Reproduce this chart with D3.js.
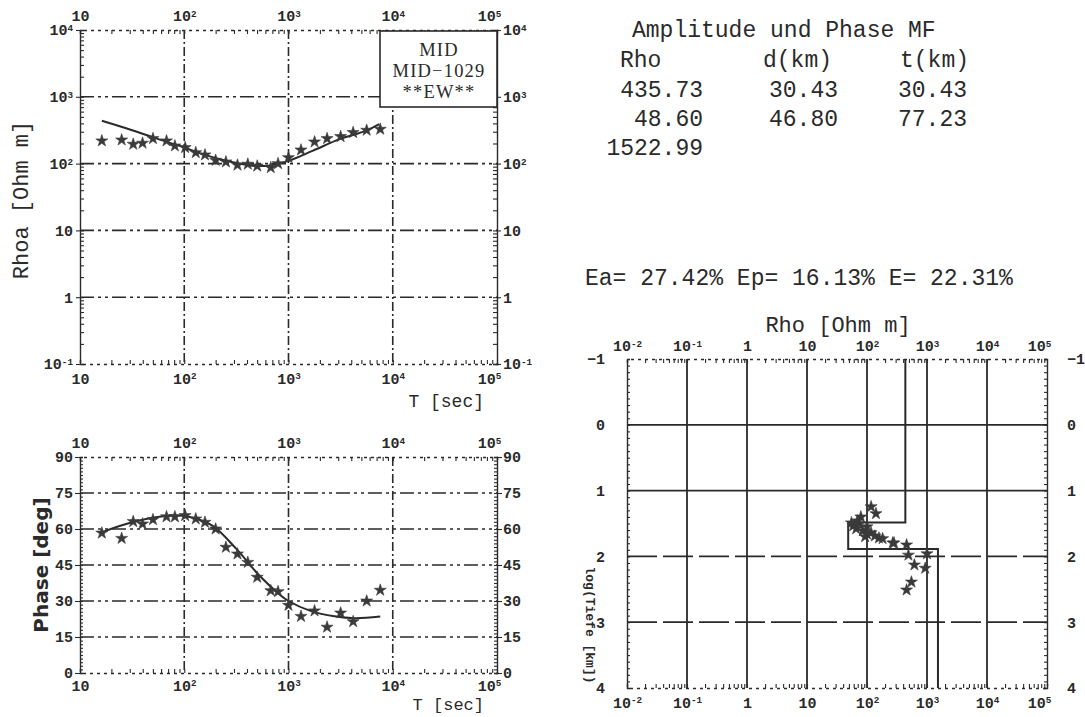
<!DOCTYPE html>
<html>
<head>
<meta charset="utf-8">
<script src="https://cdnjs.cloudflare.com/ajax/libs/d3/7.8.5/d3.min.js"></script>
<style>
  body { margin: 0; background: #fff; }
  svg { display: block; }
</style>
</head>
<body>
<svg id="chart" width="1085" height="717"></svg>
<script>
// ---- data ----
var periods = [16.2, 25.1, 32.4, 39.8, 50.1, 67.6, 81.3, 102, 129, 158, 200, 251, 324, 407, 501,
               676, 794, 1000, 1318, 1778, 2344, 3162, 4169, 5623, 7586];
var rhoa = [219, 226, 195, 202, 237, 219, 184, 174, 146, 135, 112, 106, 95, 98, 92,
            87, 100, 123, 160, 211, 237, 254, 292, 316, 327];
var phase = [58.3, 56.1, 63.1, 62.1, 63.9, 65.1, 65.1, 65.6, 64.2, 62.8, 60.0, 52.4, 49.6, 46.1, 39.9,
             34.3, 33.9, 28.2, 23.6, 25.9, 19.1, 25.0, 21.4, 30.0, 34.5];

var modelRhoPeriods = [16.2, 31.6, 51.3, 100, 158, 251, 417, 603, 1000, 1698, 3090, 5495, 7413];
var modelRhoa = [437, 316, 245, 174, 135, 110, 94.4, 92.3, 110, 155, 232, 309, 389];
var modelPhasePeriods = [16.2, 31.6, 75.9, 110, 186, 316, 525, 813, 1000, 1622, 2754, 4365, 7586];
var modelPhase = [58.6, 62.8, 65.6, 65.1, 61.4, 51.7, 40.6, 32.9, 30, 25.9, 23.6, 22.8, 23.5];

// layered model (Amplitude und Phase MF)
var layerRho = [435.73, 48.60, 1522.99];
var layerThick = [30.43, 46.80];
var layerDepth = [30.43, 77.23];

// Bostick transformed points: rho (Ohm m) and log10 depth (km)
var bostickRho = [117, 141, 79, 59, 66, 74, 85, 100, 117, 135, 158, 69, 100, 55, 93, 182,
                  269, 457, 490, 1000, 617, 933, 550, 457, 282];
var bostickLogDepth = [1.245, 1.35, 1.40, 1.535, 1.58, 1.505, 1.61, 1.66, 1.64, 1.69, 1.72, 1.46, 1.55, 1.49, 1.70, 1.73,
                       1.795, 1.825, 1.98, 1.96, 2.13, 2.18, 2.39, 2.51, 1.795];

var errNames = ['Ea', 'Ep', 'E'];
var errValues = [27.42, 16.13, 22.31];
var stationLines = ['MID', 'MID\u22121029', '**EW**'];

var periodTicks = [10, 100, 1000, 1e4, 1e5];
var rhoTicks = [0.1, 1, 10, 100, 1000, 1e4];
var phaseTicks = [0, 15, 30, 45, 60, 75, 90];
var depthRhoTicks = [1e-2, 1e-1, 1, 10, 100, 1000, 1e4, 1e5];
var logDepthTicks = [-1, 0, 1, 2, 3, 4];

// ---- drawing ----
var ink = '#2a2a2a';
var mono = '"Liberation Mono", "DejaVu Sans Mono", monospace';
var serif = '"Liberation Serif", "DejaVu Serif", serif';
var svg = d3.select('#chart');

// turn 10^n tick texts into 10 + superscript
function powLabels(sel) {
  sel.each(function(d) {
    var t = d3.select(this);
    var e = Math.round(Math.log10(d));
    t.text(null);
    if (e === 0) { t.text('1'); return; }
    if (e === 1) { t.text('10'); return; }
    t.append('tspan').text('10');
    t.append('tspan').attr('dy', '-0.45em').attr('font-size', '0.62em').text(e);
  });
}

function styleAxis(g) {
  g.selectAll('path.domain').attr('stroke', ink).attr('stroke-width', 1.4);
  g.selectAll('.tick line').attr('stroke', ink).attr('stroke-width', 1.1);
  g.selectAll('.tick text').attr('fill', ink).attr('font-family', mono)
    .attr('font-weight', 'bold').attr('font-size', 15);
}

function star(sel, size) {
  sel.attr('d', d3.symbol().type(d3.symbolStar).size(size))
    .attr('fill', '#3a3a3a').attr('stroke', '#3a3a3a').attr('stroke-width', 0.6);
}

function logFrame(g, x, xt, top, bottom, padTop, padBottom) {
  // minor ticks along top and bottom
  g.append('g').attr('transform', 'translate(0,' + top + ')')
    .call(d3.axisBottom(x).tickValues(x.ticks()).tickSize(4).tickFormat(''))
    .call(styleAxis).select('.domain').attr('stroke-dasharray', '3,4');
  g.append('g').attr('transform', 'translate(0,' + bottom + ')')
    .call(d3.axisTop(x).tickValues(x.ticks()).tickSize(4).tickFormat(''))
    .call(styleAxis).select('.domain').attr('stroke-dasharray', '3,4');
  // labels
  var a1 = g.append('g').attr('transform', 'translate(0,' + top + ')')
    .call(d3.axisTop(x).tickValues(xt).tickSize(0).tickPadding(padTop))
    .call(styleAxis).call(a => a.select('.domain').remove());
  a1.selectAll('.tick text').call(powLabels);
  var a2 = g.append('g').attr('transform', 'translate(0,' + bottom + ')')
    .call(d3.axisBottom(x).tickValues(xt).tickSize(0).tickPadding(padBottom))
    .call(styleAxis).call(a => a.select('.domain').remove());
  a2.selectAll('.tick text').call(powLabels);
  // keep the corner labels clear of the right-hand scale
  a1.selectAll('.tick text').filter((d, i) => i === xt.length - 1).attr('dx', -8);
  a2.selectAll('.tick text').filter((d, i) => i === xt.length - 1).attr('dx', -8);
}

// --- panel 1: apparent resistivity ---
var x1 = d3.scaleLog().domain([10, 1e5]).range([80, 497]);
var y1 = d3.scaleLog().domain([0.1, 1e4]).range([364, 30]);

var g1 = svg.append('g');
g1.selectAll('.hgrid').data(rhoTicks.slice(1, -1)).enter().append('line')
  .attr('x1', 80).attr('x2', 497).attr('y1', d => y1(d)).attr('y2', d => y1(d))
  .attr('stroke', ink).attr('stroke-width', 1.6).attr('stroke-dasharray', '14,4,3,4,3,4');
g1.selectAll('.vgrid').data(periodTicks.slice(1, -1)).enter().append('line')
  .attr('y1', 30).attr('y2', 364).attr('x1', d => x1(d)).attr('x2', d => x1(d))
  .attr('stroke', ink).attr('stroke-width', 1.6).attr('stroke-dasharray', '9,3,2,3');

logFrame(g1, x1, periodTicks, 30, 364, 9, 9);
g1.append('g').attr('transform', 'translate(80,0)')
  .call(d3.axisLeft(y1).tickValues(y1.ticks()).tickSize(-4).tickFormat(''))
  .call(styleAxis);
g1.append('g').attr('transform', 'translate(497,0)')
  .call(d3.axisRight(y1).tickValues(y1.ticks()).tickSize(-4).tickFormat(''))
  .call(styleAxis);
g1.append('g').attr('transform', 'translate(80,0)')
  .call(d3.axisLeft(y1).tickValues(rhoTicks).tickSize(4).tickPadding(3))
  .call(styleAxis).call(a => a.select('.domain').remove())
  .selectAll('.tick text').call(powLabels);
g1.append('g').attr('transform', 'translate(497,0)')
  .call(d3.axisRight(y1).tickValues(rhoTicks).tickSize(4).tickPadding(2))
  .call(styleAxis).call(a => a.select('.domain').remove())
  .selectAll('.tick text').call(powLabels);

// station box
g1.append('rect').attr('x', 380).attr('y', 31).attr('width', 117).attr('height', 76)
  .attr('fill', '#fff').attr('stroke', ink).attr('stroke-width', 1.6);
g1.selectAll('.stn').data(stationLines).enter().append('text')
  .attr('x', 439).attr('y', (d, i) => 56 + i * 21)
  .attr('text-anchor', 'middle').attr('font-family', serif).attr('font-size', 18.5)
  .attr('letter-spacing', 1.2).attr('fill', ink).text(d => d);

// model + data
var rhoLine = d3.line().x(d => x1(d[0])).y(d => y1(d[1])).curve(d3.curveCatmullRom);
g1.append('path').datum(d3.zip(modelRhoPeriods, modelRhoa)).attr('d', rhoLine)
  .attr('fill', 'none').attr('stroke', ink).attr('stroke-width', 2);
g1.selectAll('.rs').data(d3.zip(periods, rhoa)).enter().append('path')
  .attr('transform', d => 'translate(' + x1(d[0]) + ',' + y1(d[1]) + ')').call(star, 45);

g1.append('text').attr('transform', 'translate(28,200) rotate(-90)')
  .attr('text-anchor', 'middle').attr('font-family', mono).attr('font-size', 22)
  .attr('fill', ink).text('Rhoa [Ohm m]');
g1.append('text').attr('x', 484).attr('y', 407).attr('text-anchor', 'end')
  .attr('font-family', mono).attr('font-size', 18).attr('fill', ink).text('T [sec]');

// --- panel 2: phase ---
var x2 = d3.scaleLog().domain([10, 1e5]).range([80, 497]);
var y2 = d3.scaleLinear().domain([0, 90]).range([673, 457]);
var g2 = svg.append('g');
g2.selectAll('.hgrid').data(phaseTicks.slice(1, -1)).enter().append('line')
  .attr('x1', 80).attr('x2', 497).attr('y1', d => y2(d)).attr('y2', d => y2(d))
  .attr('stroke', ink).attr('stroke-width', 1.6).attr('stroke-dasharray', '14,4,3,4,3,4');
g2.selectAll('.vgrid').data(periodTicks.slice(1, -1)).enter().append('line')
  .attr('y1', 457).attr('y2', 673).attr('x1', d => x2(d)).attr('x2', d => x2(d))
  .attr('stroke', ink).attr('stroke-width', 1.6).attr('stroke-dasharray', '9,3,2,3');
logFrame(g2, x2, periodTicks, 457, 673, 9, 7);
var phaseMinor = d3.range(0, 90.1, 1.5);
g2.append('g').attr('transform', 'translate(80,0)')
  .call(d3.axisLeft(y2).tickValues(phaseMinor).tickSize(-3).tickFormat('')).call(styleAxis);
g2.append('g').attr('transform', 'translate(497,0)')
  .call(d3.axisRight(y2).tickValues(phaseMinor).tickSize(-3).tickFormat('')).call(styleAxis);
g2.append('g').attr('transform', 'translate(80,0)')
  .call(d3.axisLeft(y2).tickValues(phaseTicks).tickSize(5).tickPadding(2))
  .call(styleAxis).call(a => a.select('.domain').remove());
g2.append('g').attr('transform', 'translate(497,0)')
  .call(d3.axisRight(y2).tickValues(phaseTicks).tickSize(5).tickPadding(1))
  .call(styleAxis).call(a => a.select('.domain').remove());

var phLine = d3.line().x(d => x2(d[0])).y(d => y2(d[1])).curve(d3.curveCatmullRom);
g2.append('path').datum(d3.zip(modelPhasePeriods, modelPhase)).attr('d', phLine)
  .attr('fill', 'none').attr('stroke', ink).attr('stroke-width', 2);
g2.selectAll('.ps').data(d3.zip(periods, phase)).enter().append('path')
  .attr('transform', d => 'translate(' + x2(d[0]) + ',' + y2(d[1]) + ')').call(star, 45);

g2.append('text').attr('transform', 'translate(48,565) rotate(-90)')
  .attr('text-anchor', 'middle').attr('font-family', '"DejaVu Sans", sans-serif')
  .attr('font-weight', 'bold').attr('font-size', 20).attr('fill', ink).text('Phase [deg]');
g2.append('text').attr('x', 484).attr('y', 710).attr('text-anchor', 'end')
  .attr('font-family', mono).attr('font-size', 17).attr('fill', ink).text('T [sec]');

// --- panel 3: model vs depth ---
var x3 = d3.scaleLog().domain([1e-2, 1e5]).range([627, 1047]);
var y3 = d3.scaleLinear().domain([-1, 4]).range([359, 688]);
var g3 = svg.append('g');
g3.selectAll('.vgrid').data(depthRhoTicks.slice(1, -1)).enter().append('line')
  .attr('y1', 359).attr('y2', 688).attr('x1', d => x3(d)).attr('x2', d => x3(d))
  .attr('stroke', ink).attr('stroke-width', 1.8);
g3.selectAll('.hgrid').data(logDepthTicks.slice(1, -1)).enter().append('line')
  .attr('x1', 627).attr('x2', 1047).attr('y1', d => y3(d)).attr('y2', d => y3(d))
  .attr('stroke', ink).attr('stroke-width', 1.8)
  .attr('stroke-dasharray', d => d >= 2 ? '30,6' : null);
logFrame(g3, x3, depthRhoTicks, 359, 688, 8, 9);
var depthMinor = d3.range(-1, 4.01, 0.1);
g3.append('g').attr('transform', 'translate(627,0)')
  .call(d3.axisLeft(y3).tickValues(depthMinor).tickSize(-3).tickFormat('')).call(styleAxis);
g3.append('g').attr('transform', 'translate(1047,0)')
  .call(d3.axisRight(y3).tickValues(depthMinor).tickSize(-3).tickFormat('')).call(styleAxis);
g3.append('g').attr('transform', 'translate(627,0)')
  .call(d3.axisLeft(y3).tickValues(logDepthTicks).tickSize(0).tickPadding(22).tickFormat(d => d < 0 ? '\u2212' + (-d) : d))
  .call(styleAxis).call(a => a.select('.domain').remove());
g3.append('g').attr('transform', 'translate(1047,0)')
  .call(d3.axisRight(y3).tickValues(logDepthTicks).tickSize(0).tickPadding(20).tickFormat(d => d < 0 ? '\u2212' + (-d) : d))
  .call(styleAxis).call(a => a.select('.domain').remove());

// step model from the layer table
var steps = [[layerRho[0], -1]];
layerDepth.forEach(function(dep, i) {
  steps.push([layerRho[i], Math.log10(dep)]);
  steps.push([layerRho[i + 1], Math.log10(dep)]);
});
steps.push([layerRho[layerRho.length - 1], 4]);
g3.append('path').datum(steps)
  .attr('d', d3.line().x(d => x3(d[0])).y(d => y3(d[1])))
  .attr('fill', 'none').attr('stroke', ink).attr('stroke-width', 2);
g3.selectAll('.bs').data(d3.zip(bostickRho, bostickLogDepth)).enter().append('path')
  .attr('transform', d => 'translate(' + x3(d[0]) + ',' + y3(d[1]) + ')').call(star, 45);

g3.append('text').attr('x', 838).attr('y', 332).attr('text-anchor', 'middle')
  .attr('font-family', mono).attr('font-size', 22).attr('fill', ink).text('Rho [Ohm m]');
g3.append('text').attr('transform', 'translate(586,625) rotate(90)')
  .attr('text-anchor', 'middle').attr('font-family', mono).attr('font-weight', 'bold')
  .attr('font-size', 13).attr('fill', ink).text('log(Tiefe [km])');

// --- result table ---
var tb = svg.append('g').attr('font-family', mono).attr('font-size', 23).attr('fill', ink);
tb.append('text').attr('x', 632).attr('y', 37).text('Amplitude und Phase MF');
tb.append('text').attr('x', 620).attr('y', 67).text('Rho');
tb.append('text').attr('x', 763).attr('y', 67).text('d(km)');
tb.append('text').attr('x', 900).attr('y', 67).text('t(km)');
tb.selectAll('.rho').data(layerRho).enter().append('text')
  .attr('x', 703).attr('y', (d, i) => 97 + i * 29).attr('text-anchor', 'end')
  .text(d => d.toFixed(2));
tb.selectAll('.thk').data(layerThick).enter().append('text')
  .attr('x', 838).attr('y', (d, i) => 97 + i * 29).attr('text-anchor', 'end')
  .text(d => d.toFixed(2));
tb.selectAll('.dep').data(layerDepth).enter().append('text')
  .attr('x', 967).attr('y', (d, i) => 97 + i * 29).attr('text-anchor', 'end')
  .text(d => d.toFixed(2));
tb.append('text').attr('x', 585).attr('y', 285)
  .text(errNames.map((n, i) => n + '= ' + errValues[i].toFixed(2) + '%').join(' '));
</script>
</body>
</html>
